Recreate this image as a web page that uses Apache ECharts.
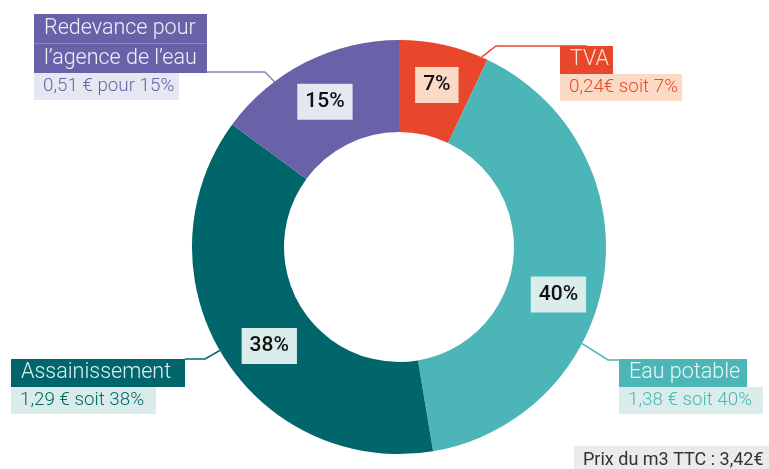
<!DOCTYPE html>
<html>
<head>
<meta charset="utf-8">
<script src="https://cdn.jsdelivr.net/npm/echarts@6/dist/echarts.min.js"></script>
<style>html,body{margin:0;padding:0;background:#fff}#c{width:769px;height:469px}</style>
</head>
<body>
<div id="c"></div>
<script>
// ---- data ----
const categories = ['TVA', 'Eau potable', 'Assainissement', 'Redevance pour\nl’agence de l’eau'];
const values = [0.24, 1.38, 1.29, 0.51];
const percentLabels = ['7%', '40%', '38%', '15%'];
const detailLabels = ['0,24€ soit 7%', '1,38 € soit 40%', '1,29 € soit 38%', '0,51 € pour 15%'];
const totalPrefix = 'Prix du m3 TTC : ';

// ---- styles / layout ----
const colors = ['#E8472B', '#4BB5B8', '#00666B', '#6A62A8'];
const lightColors = ['#FBDAC5', '#DAEDEA', '#D9ECE9', '#E5E7F1'];
const titleTextColors = ['#FCE3D5', '#E8F6F5', '#DDF0EF', '#F0EFF9'];
const lineColors = ['#E8472B', '#4BB5B8', '#00666B', '#8A84C0'];
const outerLabelPos = [[560, 46], [619, 359], [11, 359], [34, 14]];
const titleBoxW = [53, 128, 174, 173];
const subBoxW = [122, 144, 145, 145];
const anchorAngles = [23.5, 117.8, 240, 323];
const elbows = [[496, 46], [608, 360], [205, 359], [265, 72]];
const ends = [[587, 46], [627, 360], [185, 359], [207, 72]];
const innerOffsets = [[2, -2], [-3, 25], [10, 13], [0, 1]];
const CX = 399, CY = 247, R0 = 115, R1 = 207;
const FONT_OUT = "Roboto, 'Noto Sans', sans-serif";
const FONT_IN = "Roboto, 'Noto Sans', sans-serif";

const chart = echarts.init(document.getElementById('c'), null, {renderer: 'canvas'});

const innerData = categories.map((name, i) => ({
  name, value: values[i],
  itemStyle: {color: colors[i]},
  label: {backgroundColor: lightColors[i], offset: innerOffsets[i]}
}));

const outerData = categories.map((name, i) => {
  const rich = {};
  rich['t' + i] = {
    fontFamily: FONT_OUT, fontSize: 21.5, fontWeight: 300, color: titleTextColors[i],
    backgroundColor: colors[i], width: titleBoxW[i] - 20,
    height: i === 3 ? 29.5 : 28, lineHeight: i === 3 ? 29.5 : 28, padding: [0, 10, 0, 10]
  };
  rich['s' + i] = {
    fontFamily: FONT_OUT, fontSize: 18.8, fontWeight: 300, color: colors[i],
    backgroundColor: lightColors[i], width: subBoxW[i] - 18,
    height: 27, lineHeight: 27, padding: [0, 9, 0, 9]
  };
  return {
    name, value: values[i],
    label: {rich},
    labelLine: {lineStyle: {color: lineColors[i], width: 1.5}}
  };
});

const total = values.reduce((a, b) => a + b, 0);

chart.setOption({
  animation: false,
  title: {
    text: totalPrefix + total.toFixed(2).replace('.', ',') + '€',
    left: 574, top: 446,
    padding: [5, 20, 6, 9],
    backgroundColor: '#EBEBEB',
    textStyle: {fontFamily: FONT_OUT, fontSize: 18, fontWeight: 'normal', color: '#333'}
  },
  series: [
    {
      type: 'pie',
      center: [CX, CY], radius: [R0, R1],
      startAngle: 90, clockwise: true,
      avoidLabelOverlap: false,
      silent: true,
      itemStyle: {borderWidth: 0},
      label: {
        show: true, position: 'inside',
        formatter: p => percentLabels[p.dataIndex],
        fontFamily: FONT_IN, fontSize: 21, fontWeight: 500, color: '#111',
        padding: [8, 8, 7, 8]
      },
      labelLine: {show: false},
      data: innerData
    },
    {
      type: 'pie',
      center: [CX, CY], radius: [R0, R1],
      startAngle: 90, clockwise: true,
      avoidLabelOverlap: false,
      silent: true,
      itemStyle: {color: 'rgba(0,0,0,0)'},
      label: {
        show: true, position: 'outside',
        formatter: p => {
          const i = p.dataIndex;
          const lines = categories[i].split('\n').map(s => '{t' + i + '|' + s + '}');
          return lines.join('\n') + '\n{s' + i + '|' + detailLabels[i] + '}';
        }
      },
      labelLine: {show: true, length: 10, length2: 10},
      labelLayout: p => {
        const i = p.dataIndex;
        const a = anchorAngles[i] * Math.PI / 180;
        const start = [CX + R1 * Math.sin(a), CY - R1 * Math.cos(a)];
        return {
          x: outerLabelPos[i][0], y: outerLabelPos[i][1],
          align: 'left', verticalAlign: 'top',
          labelLinePoints: [start, elbows[i], ends[i]]
        };
      },
      data: outerData
    }
  ]
});
</script>
</body>
</html>
